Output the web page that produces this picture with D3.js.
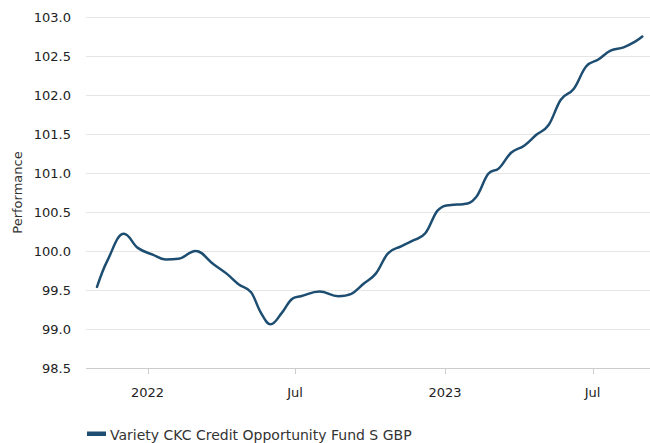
<!DOCTYPE html>
<html>
<head>
<meta charset="utf-8">
<script src="https://cdn.jsdelivr.net/npm/d3@7"></script>
<style>
  html, body { margin: 0; padding: 0; background: #ffffff; }
  svg { display: block; font-family: "DejaVu Sans", Verdana, sans-serif; }
</style>
</head>
<body>
<svg id="chart" width="650" height="443"></svg>
<script>
// ---- data ----
const seriesName = "Variety CKC Credit Opportunity Fund S GBP";
const dates = ["2021-10-31","2021-11-12","2021-12-03","2021-12-20",
  "2022-01-08","2022-01-23","2022-02-08","2022-03-01","2022-03-23",
  "2022-04-08","2022-04-23","2022-05-08","2022-05-20","2022-06-01","2022-06-15","2022-06-28",
  "2022-07-08","2022-07-31","2022-08-23","2022-09-08","2022-09-23",
  "2022-10-08","2022-10-23","2022-11-08","2022-11-23","2022-12-08","2022-12-23",
  "2023-01-08","2023-01-23","2023-02-08","2023-02-23","2023-03-08","2023-03-23",
  "2023-04-08","2023-04-23","2023-05-08","2023-05-23","2023-06-08","2023-06-23",
  "2023-07-08","2023-07-23","2023-08-08","2023-08-23","2023-08-31"];
const values = [99.54, 99.86, 100.22, 100.04,
  99.95, 99.89, 99.90, 100.00, 99.83,
  99.71, 99.57, 99.47, 99.21, 99.06, 99.21, 99.39,
  99.42, 99.48, 99.42, 99.45, 99.58,
  99.71, 99.97, 100.06, 100.135, 100.23, 100.52,
  100.59, 100.60, 100.69, 100.99, 101.06, 101.26,
  101.35, 101.49, 101.615, 101.94, 102.08, 102.365,
  102.455, 102.57, 102.61, 102.69, 102.75];
const yTicks = [98.5, 99.0, 99.5, 100.0, 100.5, 101.0, 101.5, 102.0, 102.5, 103.0];
const xTickDates = ["2022-01-01","2022-07-01","2023-01-01","2023-07-01"];
const xTickLabels = ["2022","Jul","2023","Jul"];
const yTitle = "Performance";

// ---- layout ----
const plot = { left: 86, right: 650, top: 17, bottom: 368 };
const parse = d3.utcParse("%Y-%m-%d");
const svg = d3.select("#chart");

const x = d3.scaleUtc()
  .domain([Date.UTC(2021, 9, 17, 12), Date.UTC(2023, 8, 9, 10)])
  .range([plot.left, plot.right]);
const y = d3.scaleLinear().domain([98.5, 103]).range([plot.bottom, plot.top]);

// gridlines
svg.append("g").selectAll("line").data(yTicks.filter(v => v > 98.5)).join("line")
  .attr("x1", plot.left).attr("x2", plot.right)
  .attr("y1", d => Math.round(y(d)) + 0.5).attr("y2", d => Math.round(y(d)) + 0.5)
  .attr("stroke", "#e6e6e6").attr("stroke-width", 1);

// y labels
svg.append("g").selectAll("text").data(yTicks).join("text")
  .attr("x", 71).attr("y", d => y(d) + 5)
  .attr("text-anchor", "end").attr("font-size", 13).attr("fill", "#222222")
  .text(d => d3.format(".1f")(d));

// x axis line
svg.append("line")
  .attr("x1", plot.left).attr("x2", plot.right)
  .attr("y1", plot.bottom + 0.5).attr("y2", plot.bottom + 0.5)
  .attr("stroke", "#cccccc").attr("stroke-width", 1);

// x ticks & labels
const xt = svg.append("g").selectAll("g").data(xTickDates.map((d, i) => ({ d: parse(d), l: xTickLabels[i] }))).join("g");
xt.append("line")
  .attr("x1", d => Math.round(x(d.d)) + 0.5).attr("x2", d => Math.round(x(d.d)) + 0.5)
  .attr("y1", plot.bottom).attr("y2", plot.bottom + 6)
  .attr("stroke", "#cccccc").attr("stroke-width", 1);
xt.append("text")
  .attr("x", d => x(d.d)).attr("y", 396.5)
  .attr("text-anchor", "middle").attr("font-size", 13).attr("fill", "#222222")
  .text(d => d.l);

// y title
svg.append("text")
  .attr("transform", "translate(21.5," + ((plot.top + plot.bottom) / 2) + ") rotate(-90)")
  .attr("text-anchor", "middle").attr("font-size", 13).attr("fill", "#333333")
  .text(yTitle);

// Highcharts-style spline curve
function HCSpline(context) { this._context = context; }
HCSpline.prototype = {
  areaStart() {}, areaEnd() {},
  lineStart() { this._pts = []; },
  point(px, py) { this._pts.push({ x: +px, y: +py }); },
  lineEnd() {
    const pts = this._pts, ctx = this._context, s = 1.5, den = s + 1;
    for (let i = 0; i < pts.length; i++) {
      const p = pts[i];
      if (i === 0) { ctx.moveTo(p.x, p.y); continue; }
      const last = pts[i - 1], next = pts[i + 1];
      let lcx = p.x, lcy = p.y;
      if (next) {
        lcx = (s * p.x + last.x) / den;
        lcy = (s * p.y + last.y) / den;
        const rcx = (s * p.x + next.x) / den;
        let rcy = (s * p.y + next.y) / den;
        let corr = 0;
        if (rcx !== lcx) corr = ((rcy - lcy) * (rcx - p.x)) / (rcx - lcx) + p.y - rcy;
        lcy += corr; rcy += corr;
        if (lcy > last.y && lcy > p.y) { lcy = Math.max(last.y, p.y); rcy = 2 * p.y - lcy; }
        else if (lcy < last.y && lcy < p.y) { lcy = Math.min(last.y, p.y); rcy = 2 * p.y - lcy; }
        if (rcy > next.y && rcy > p.y) { rcy = Math.max(next.y, p.y); lcy = 2 * p.y - rcy; }
        else if (rcy < next.y && rcy < p.y) { rcy = Math.min(next.y, p.y); lcy = 2 * p.y - rcy; }
        p.rcx = rcx; p.rcy = rcy;
      }
      const c1x = last.rcx !== undefined ? last.rcx : last.x;
      const c1y = last.rcy !== undefined ? last.rcy : last.y;
      ctx.bezierCurveTo(c1x, c1y, lcx, lcy, p.x, p.y);
    }
  }
};
const hcSpline = ctx => new HCSpline(ctx);

const data = dates.map((d, i) => ({ d: parse(d), v: values[i] }));
const lineGen = d3.line().x(d => x(d.d)).y(d => y(d.v)).curve(hcSpline);
svg.append("path").datum(data)
  .attr("d", lineGen)
  .attr("fill", "none").attr("stroke", "#1d4e71").attr("stroke-width", 2.5)
  .attr("stroke-linejoin", "round").attr("stroke-linecap", "round");

// legend
svg.append("rect").attr("x", 87).attr("y", 431.5).attr("width", 19).attr("height", 4.5)
  .attr("fill", "#1d4e71");
svg.append("text").attr("x", 110).attr("y", 440).attr("font-size", 14).attr("fill", "#333333")
  .text(seriesName);
</script>
</body>
</html>
